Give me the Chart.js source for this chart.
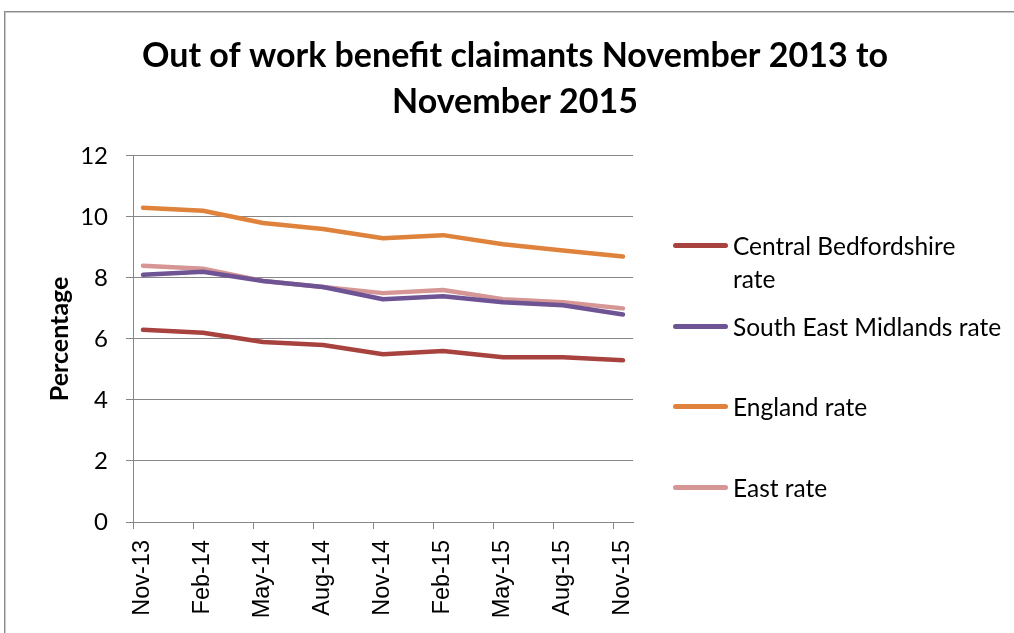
<!DOCTYPE html>
<html lang="en">
<head>
<meta charset="UTF-8">
<title>Out of work benefit claimants</title>
<style>
    body {
        margin: 0;
        background: #fff;
        font-family: Lato, "Open Sans", sans-serif;
    }
    .wrap {
        position: relative;
        width: 1014px;
        height: 633px;
        overflow: hidden;
    }
    .frame {
        position: absolute;
        left: 4px;
        top: 11px;
        width: 1040px;
        height: 660px;
        border: 1px solid #8a8a8a;
        box-shadow: inset 1px 1px 0 #c9c9c9;
    }
    #chart {
        position: absolute;
        left: 0;
        top: 0;
    }
    .legend {
        position: absolute;
        left: 673px;
        top: 229px;
        width: 340px;
    }
    .legend-item {
        position: absolute;
        left: 0;
        display: flex;
        align-items: flex-start;
        font-size: 24.5px;
        line-height: 33px;
        color: #000;
    }
    .legend-line {
        width: 55px;
        height: 5px;
        border-radius: 3px;
        margin-top: 14px;
        margin-right: 5px;
        flex: none;
    }
    .legend-text {
        max-width: 268.5px;
    }
</style>
</head>
<body>
<div class="wrap">
    <div class="frame"></div>
    <canvas id="chart" width="1014" height="633"></canvas>
    <div class="legend" id="legend"></div>
</div>
<script src="https://cdn.jsdelivr.net/npm/chart.js"></script>
<script>
    // quarterly readings, three months apart
    const periods = ['Nov-13', 'Feb-14', 'May-14', 'Aug-14', 'Nov-14', 'Feb-15', 'May-15', 'Aug-15', 'Nov-15'];
    const monthStep = 3;

    const centralBeds = [6.3, 6.2, 5.9, 5.8, 5.5, 5.6, 5.4, 5.4, 5.3];
    const southEastMidlands = [8.1, 8.2, 7.9, 7.7, 7.3, 7.4, 7.2, 7.1, 6.8];
    const england = [10.3, 10.2, 9.8, 9.6, 9.3, 9.4, 9.1, 8.9, 8.7];
    const east = [8.4, 8.3, 7.9, 7.7, 7.5, 7.6, 7.3, 7.2, 7.0];

    const yTicks = [0, 2, 4, 6, 8, 10, 12];

    const seriesNames = ['Central Bedfordshire rate', 'South East Midlands rate', 'England rate', 'East rate'];
    const seriesColors = ['#a8423f', '#6e5494', '#df823b', '#d69695'];

    const gridGrey = '#868686';

    function toPoints(values) {
        return values.map((v, i) => ({ x: i * monthStep, y: v }));
    }

    const datasets = [centralBeds, southEastMidlands, england, east].map((vals, i) => ({
        label: seriesNames[i],
        data: toPoints(vals),
        borderColor: seriesColors[i],
        backgroundColor: seriesColors[i],
        borderWidth: 4.5,
        borderCapStyle: 'round',
        borderJoinStyle: 'round',
        pointRadius: 0,
        tension: 0,
        fill: false
    }));

    const calibriLike = 'Lato, "Open Sans", sans-serif';

    const chart = new Chart(document.getElementById('chart'), {
        type: 'line',
        data: { datasets },
        options: {
            responsive: false,
            animation: false,
            events: [],
            layout: { padding: { left: 16, right: 0, top: 0, bottom: 0 } },
            plugins: {
                legend: { display: false },
                tooltip: { enabled: false },
                title: {
                    display: true,
                    text: ['Out of work benefit claimants November 2013 to', 'November 2015'],
                    color: '#000',
                    font: { family: calibriLike, size: 34, weight: 'bold', lineHeight: 1.35 },
                    padding: { top: 33, bottom: 31 }
                }
            },
            scales: {
                x: {
                    type: 'linear',
                    min: -monthStep / 6,
                    max: (periods.length - 1) * monthStep + monthStep / 6,
                    afterBuildTicks: scale => {
                        scale.ticks = periods.map((p, i) => ({ value: i * monthStep - monthStep / 6 }));
                    },
                    afterFit: scale => { scale.height = 111; },
                    grid: {
                        drawOnChartArea: false,
                        drawTicks: true,
                        tickLength: 7,
                        color: gridGrey
                    },
                    border: { display: true, color: gridGrey, width: 1 },
                    ticks: {
                        autoSkip: false,
                        minRotation: 90,
                        maxRotation: 90,
                        labelOffset: 10,
                        padding: 11,
                        color: '#000',
                        font: { family: '"Liberation Sans", Arial, sans-serif', size: 23.5 },
                        callback: (value, index) => periods[index]
                    }
                },
                y: {
                    min: 0,
                    max: 12,
                    afterBuildTicks: scale => {
                        scale.ticks = yTicks.map(v => ({ value: v }));
                    },
                    afterFit: scale => { scale.width = 117; },
                    grid: {
                        color: gridGrey,
                        lineWidth: 1,
                        drawTicks: true,
                        tickLength: 7
                    },
                    border: { display: true, color: gridGrey, width: 1 },
                    ticks: {
                        padding: 18,
                        color: '#000',
                        font: { family: calibriLike, size: 24 }
                    },
                    title: {
                        display: true,
                        text: 'Percentage',
                        color: '#000',
                        font: { family: calibriLike, size: 25, weight: 'bold', lineHeight: 1.2 },
                        padding: { top: 29, bottom: 0 }
                    }
                },
                // empty right-hand axis that keeps room for the legend
                side: {
                    position: 'right',
                    display: true,
                    afterFit: scale => { scale.width = 381; },
                    grid: { display: false, drawTicks: false },
                    border: { display: false },
                    ticks: { display: false }
                }
            }
        }
    });

    // legend built from the datasets so the long name can wrap
    const legendEl = document.getElementById('legend');
    datasets.forEach((ds, i) => {
        const item = document.createElement('div');
        item.className = 'legend-item';
        item.style.top = (i * 80.5) + 'px';
        item.innerHTML = '<span class="legend-line" style="background:' + ds.borderColor + '"></span>' +
            '<span class="legend-text">' + ds.label + '</span>';
        legendEl.appendChild(item);
    });
</script>
</body>
</html>
